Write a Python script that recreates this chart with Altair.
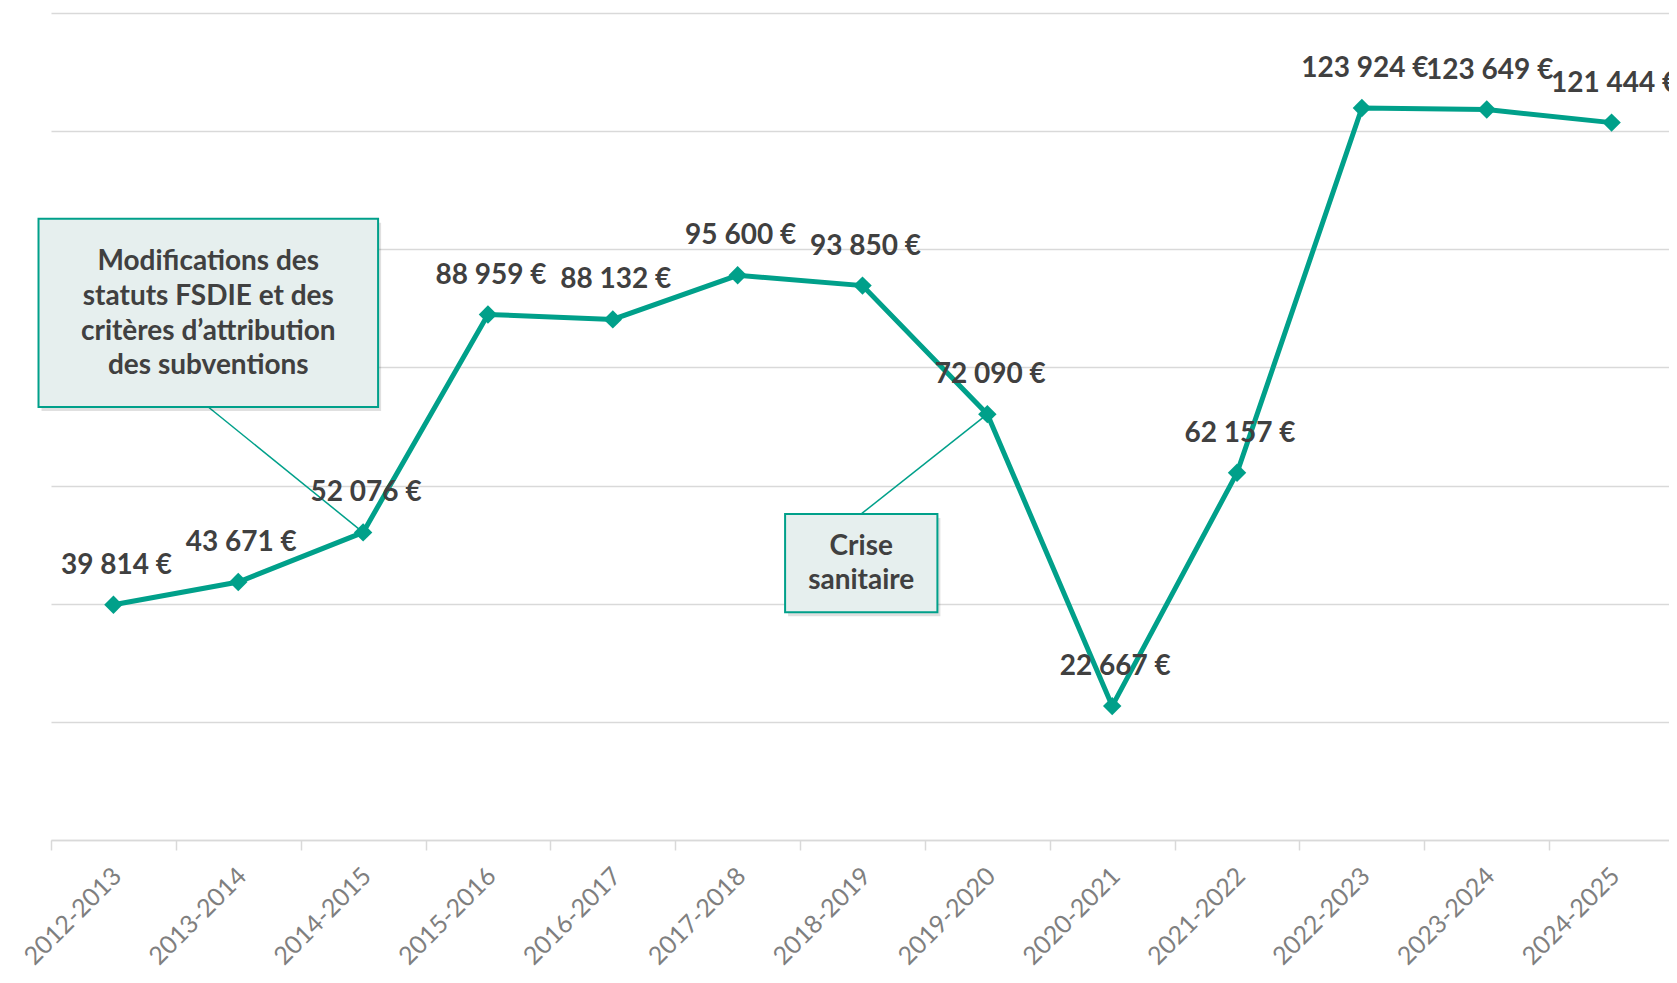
import altair as alt
import pandas as pd

years = ["2012-2013", "2013-2014", "2014-2015", "2015-2016", "2016-2017", "2017-2018",
         "2018-2019", "2019-2020", "2020-2021", "2021-2022", "2022-2023", "2023-2024", "2024-2025"]
amounts = [39814, 43671, 52076, 88959, 88132, 95600, 93850, 72090, 22667, 62157, 123924, 123649, 121444]
value_labels = [f"{v:,}".replace(",", " ") + " €" for v in amounts]

grid_values = [0, 20000, 40000, 60000, 80000, 100000, 120000, 140000]

# annotation boxes (x in band-index units: 0 = left edge of first band, 13 = right edge)
box_x0 = [-0.10, 5.88]
box_x1 = [2.62, 7.10]
box_y0 = [73300, 38550]
box_y1 = [105150, 55200]
note_lines = ["Modifications des", "statuts FSDIE et des", "critères d’attribution", "des subventions",
              "Crise", "sanitaire"]
note_x = [1.26, 1.26, 1.26, 1.26, 6.49, 6.49]
note_y = [97900, 91950, 85970, 80180, 49590, 43800]
conn_x0 = [1.26, 6.49]
conn_y0 = [73300, 55200]
conn_x1 = [2.5, 7.5]
conn_y1 = [52076, 72090]

TEAL = "#00A08A"
TXT = "#404040"
FONT = "Lato"
XRANGE = [0, 1623]

df = pd.DataFrame({"year": years, "amount": amounts, "label": value_labels})
boxes = pd.DataFrame({"x0": box_x0, "x1": box_x1, "y0": box_y0, "y1": box_y1})
notes = pd.DataFrame({"line": note_lines, "x": note_x, "y": note_y})
conns = pd.DataFrame({"x0": conn_x0, "y0": conn_y0, "x1": conn_x1, "y1": conn_y1})

yscale = alt.Scale(domain=[0, 140000], nice=False, zero=True)
yaxis = alt.Axis(values=grid_values, title=None)
xband = alt.X("year:N", sort=years, title=None,
              scale=alt.Scale(type="band", paddingInner=0, paddingOuter=0, range=XRANGE),
              axis=alt.Axis(tickBand="extent", labelAngle=-45))
xq = alt.Scale(domain=[0, 13], nice=False, zero=False, range=XRANGE)

base = alt.Chart(df)
line = base.mark_line(color=TEAL, strokeWidth=5).encode(
    x=xband, y=alt.Y("amount:Q", scale=yscale, axis=yaxis))
pts = base.mark_point(shape="diamond", filled=True, size=340, color=TEAL, opacity=1).encode(
    x=alt.X("year:N", sort=years), y=alt.Y("amount:Q"))
lbl = base.mark_text(font=FONT, fontWeight="bold", fontSize=28, color=TXT, dx=3, dy=-39,
                     baseline="middle").encode(
    x=alt.X("year:N", sort=years), y=alt.Y("amount:Q"), text="label:N")
main = alt.layer(line, pts, lbl)

conn = alt.Chart(conns).mark_rule(color=TEAL, strokeWidth=1.5).encode(
    x=alt.X("x0:Q", scale=xq, axis=None), x2="x1:Q",
    y=alt.Y("y0:Q", scale=yscale, axis=yaxis), y2="y1:Q")
shadow = alt.Chart(boxes).mark_rect(fill="#000000", opacity=0.12, xOffset=3, yOffset=4,
                                    x2Offset=3, y2Offset=4, clip=False).encode(
    x=alt.X("x0:Q", scale=xq, axis=None), x2="x1:Q",
    y=alt.Y("y0:Q", scale=yscale, axis=yaxis), y2="y1:Q")
rect = alt.Chart(boxes).mark_rect(fill="#E6EFEE", stroke=TEAL, strokeWidth=2, clip=False).encode(
    x=alt.X("x0:Q", scale=xq, axis=None), x2="x1:Q",
    y=alt.Y("y0:Q", scale=yscale, axis=yaxis), y2="y1:Q")
ntxt = alt.Chart(notes).mark_text(font=FONT, fontWeight="bold", fontSize=28, color=TXT,
                                  align="center", baseline="middle").encode(
    x=alt.X("x:Q", scale=xq, axis=None), y=alt.Y("y:Q", scale=yscale, axis=yaxis), text="line:N")
ann_layer = alt.layer(shadow, rect, ntxt)

chart = alt.layer(
    alt.layer(conn),
    main,
    ann_layer,
).resolve_scale(x="independent").properties(
    width=1618, height=827,
    autosize=alt.AutoSizeParams(type="none"),
    padding={"left": 43, "top": 5, "right": 0, "bottom": 131},
).configure_view(stroke=None).configure_axisY(
    labels=False, ticks=False, domain=False, gridColor="#D9D9D9", gridWidth=1.5
).configure_axisX(
    grid=False, domainColor="#D9D9D9", domainWidth=1.5, tickColor="#D9D9D9", tickWidth=1.5,
    tickSize=10, labelColor="#7F7F7F", labelFont=FONT, labelFontSize=25, labelPadding=13,
    labelOffset=-5
)

chart.save("out.html", embed_options={"renderer": "svg", "actions": False})
